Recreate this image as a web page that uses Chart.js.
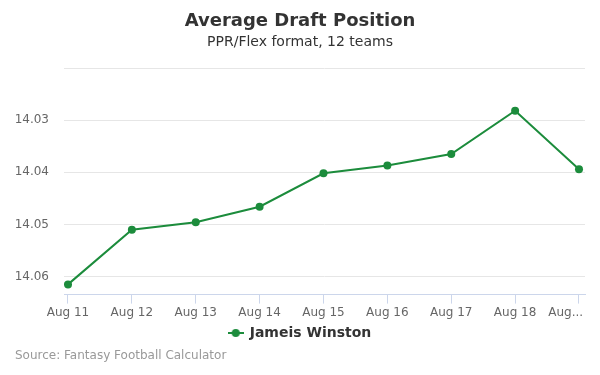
<!DOCTYPE html>
<html>
<head>
<meta charset="utf-8">
<script src="https://cdn.jsdelivr.net/npm/chart.js@4/dist/chart.umd.min.js"></script>
<style>
html,body{margin:0;padding:0;background:#fff;}
#wrap{width:600px;height:375px;position:relative;}
</style>
</head>
<body>
<div id="wrap"><canvas id="c" width="600" height="375"></canvas></div>
<script>
const categories = ['Aug 11','Aug 12','Aug 13','Aug 14','Aug 15','Aug 16','Aug 17','Aug 18','Aug 19'];
const tickLabels = ['Aug 11','Aug 12','Aug 13','Aug 14','Aug 15','Aug 16','Aug 17','Aug 18','Aug...'];
const adpValues = [14.0615, 14.0510, 14.0496, 14.0466, 14.0402, 14.0387, 14.0365, 14.0282, 14.0394];
const yTicks = [14.02, 14.03, 14.04, 14.05, 14.06];
const seriesName = 'Jameis Winston';
const FONT = "'DejaVu Sans', sans-serif";
const GREEN = 'rgb(28,140,60)';

// legend symbol: line with a circle marker
const legendIcon = document.createElement('canvas');
legendIcon.width = 16; legendIcon.height = 10;
(function () {
  const g = legendIcon.getContext('2d');
  g.strokeStyle = GREEN; g.fillStyle = GREEN; g.lineWidth = 2;
  g.beginPath(); g.moveTo(0, 5); g.lineTo(16, 5); g.stroke();
  g.beginPath(); g.arc(8, 5, 4, 0, Math.PI * 2); g.fill();
})();

const creditPlugin = {
  id: 'credit',
  afterDraw(chart) {
    const ctx = chart.ctx;
    ctx.save();
    ctx.font = "12px " + FONT;
    ctx.fillStyle = '#999999';
    ctx.textAlign = 'left';
    ctx.textBaseline = 'middle';
    ctx.fillText('Source: Fantasy Football Calculator', 15, 356);
    ctx.restore();
  }
};

new Chart(document.getElementById('c'), {
  type: 'line',
  data: {
    datasets: [{
      label: seriesName,
      data: adpValues.map((v, i) => ({x: i, y: v})),
      borderColor: GREEN,
      backgroundColor: GREEN,
      borderWidth: 2,
      pointRadius: 4,
      pointHoverRadius: 4,
      pointBackgroundColor: GREEN,
      pointBorderWidth: 0,
      tension: 0,
      fill: false
    }]
  },
  options: {
    responsive: false,
    animation: false,
    layout: {padding: {left: 0, right: 0, top: 0, bottom: 25}},
    plugins: {
      title: {
        display: true,
        text: 'Average Draft Position',
        color: '#333333',
        font: {family: FONT, size: 18, weight: 'bold'},
        padding: {top: 11, bottom: 0}
      },
      subtitle: {
        display: true,
        text: 'PPR/Flex format, 12 teams',
        color: '#333333',
        font: {family: FONT, size: 14},
        padding: {top: 1, bottom: 17.6}
      },
      legend: {
        display: true,
        position: 'bottom',
        labels: {
          color: '#333333',
          font: {family: FONT, size: 14, weight: 'bold'},
          usePointStyle: true,
          padding: 4,
          generateLabels() {
            return [{text: seriesName, fillStyle: GREEN, strokeStyle: GREEN, lineWidth: 0, pointStyle: legendIcon, datasetIndex: 0, fontColor: '#333333'}];
          }
        }
      },
      tooltip: {enabled: false}
    },
    scales: {
      x: {
        type: 'linear',
        min: -0.0625,
        max: 8.094,
        afterBuildTicks(scale) { scale.ticks = categories.map((c, i) => ({value: i})); },
        afterFit(scale) { scale.paddingLeft = 0; scale.paddingRight = 0; },
        ticks: {
          color: '#666666',
          font: {family: FONT, size: 12},
          padding: 2,
          maxRotation: 0,
          autoSkip: false,
          callback: (v) => (v === categories.length - 1 ? tickLabels[v] + '\u00a0\u00a0\u00a0\u00a0\u00a0\u00a0\u00a0' : tickLabels[v])
        },
        grid: {display: true, drawOnChartArea: false, drawTicks: true, tickLength: 9, color: '#ccd6eb'},
        border: {display: true, color: '#ccd6eb', width: 1}
      },
      y: {
        reverse: true,
        min: 14.02,
        max: 14.06346,
        afterFit(scale) { scale.width = 64; },
        afterBuildTicks(scale) { scale.ticks = yTicks.map(v => ({value: v})); },
        ticks: {
          color: '#666666',
          font: {family: FONT, size: 12},
          padding: 15,
          callback: (v) => (Math.abs(v - 14.02) < 1e-9 ? '' : v.toFixed(2))
        },
        grid: {color: '#e6e6e6', drawTicks: false, lineWidth: 1},
        border: {display: false}
      },
      yRight: {
        position: 'right',
        display: true,
        afterFit(scale) { scale.width = 15; },
        ticks: {display: false},
        grid: {display: false},
        border: {display: false}
      }
    }
  },
  plugins: [creditPlugin]
});
</script>
</body>
</html>
